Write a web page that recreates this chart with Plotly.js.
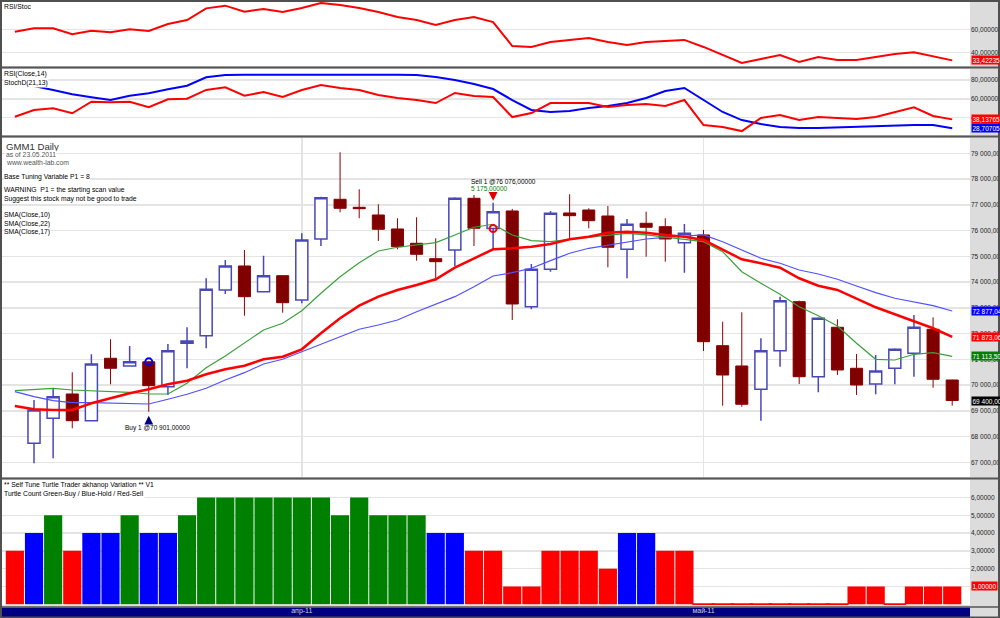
<!DOCTYPE html>
<html><head><meta charset="utf-8">
<script src="https://cdn.plot.ly/plotly-3.0.1.min.js"></script>
<style>html,body{margin:0;padding:0;background:#fff}#chart{width:1000px;height:618px}</style>
</head><body><div id="chart"></div>
<script>
// ---------- DATA ----------
const dates = ['2011-03-11','2011-03-14','2011-03-15','2011-03-16','2011-03-17','2011-03-18','2011-03-21','2011-03-22','2011-03-23','2011-03-24',
'2011-03-25','2011-03-28','2011-03-29','2011-03-30','2011-03-31','2011-04-01','2011-04-04','2011-04-05','2011-04-06','2011-04-07',
'2011-04-08','2011-04-11','2011-04-12','2011-04-13','2011-04-14','2011-04-15','2011-04-18','2011-04-19','2011-04-20','2011-04-21',
'2011-04-22','2011-04-25','2011-04-26','2011-04-27','2011-04-28','2011-04-29','2011-05-03','2011-05-04','2011-05-05','2011-05-06',
'2011-05-10','2011-05-11','2011-05-12','2011-05-13','2011-05-16','2011-05-17','2011-05-18','2011-05-19','2011-05-20','2011-05-23'];
const monthTickDates = ['2011-04-01','2011-05-03'];
const monthTickLabels = ['апр-11','май-11'];

const open  = [null,67740,68710,69654,68617,71040,70741,70901,69937,71622,71917,73692,74624,73626,74247,73304,75672,77214,76903,76604,76061,75505,74907,75245,77253,76076,76760,73043,74496,76682,76798,76565,75272,76282,76150,75529,75828,71529,70741,69836,71335,73238,70325,72244,70652,70042,70652,71234,72166,70197];
const high  = [null,69420,69875,70496,71195,71778,71517,70920,71595,72244,74146,74857,75245,75024,74260,75894,77315,79039,77602,77020,76476,76515,75699,77290,77381,77082,76840,74702,76760,77408,76864,76954,76449,76732,76476,76255,76022,72461,72826,71816,73432,73276,72630,72554,71207,71168,71428,72721,72632,70210];
const low   = [null,66963,67157,68322,68600,70030,70720,68966,69615,70652,71428,73537,72694,73600,72810,73175,75400,76709,76476,75595,75272,74830,74053,74624,75400,75272,72527,72943,74403,75699,76088,74573,74146,74985,74791,74364,71323,69199,69160,68617,70714,70042,69720,70391,69615,69642,70030,70325,69898,69199];
const close = [null,69030,69550,68617,70819,70652,70908,69976,71335,71712,73719,74624,73432,74247,73199,75633,77276,76864,76849,76049,75373,75078,74791,77253,76088,76732,73148,74496,76670,76577,76383,75350,76243,76127,75672,75894,71684,70391,69254,71335,73276,70325,72593,70586,70003,70547,71389,72244,70224,69400];

const sma10 = [69782,69836,69875,69809,69782,69743,69720,69654,69654,70069,70675,71129,71622,72139,72399,72888,73564,74208,74752,75206,75350,75439,75529,75828,76127,76243,75828,75606,75567,75661,75738,75828,75893,75828,75738,75672,75567,75179,74403,73952,73525,73043,72694,72294,71622,71001,70974,71195,71257,71113.5];
const sma22 = [69743,69549,69393,69316,69316,69293,69293,69265,69448,69642,69875,70197,70481,70819,71001,71296,71595,71879,72166,72333,72527,72849,73148,73432,73820,74236,74364,74535,74830,75117,75311,75439,75567,75672,75738,75789,75828,75567,75245,74923,74729,74469,74313,74107,73847,73587,73370,73214,73082,72877.04];
const sma17 = [69188,69060,69032,69032,69293,69487,69681,69836,70030,70170,70419,70613,70753,71001,71102,71389,72011,72593,73082,73432,73692,73886,74107,74558,74923,75272,75311,75373,75478,75661,75762,75917,75956,75917,75828,75762,75633,75245,74884,74729,74558,74146,73859,73692,73370,73020,72748,72461,72205,71873.06];

const rsiStoc = [57.9,60.9,60.9,55.7,58.8,57.4,60.0,58.5,64.5,67.9,77.9,80.2,75.0,77.4,74.8,78.2,82.5,80.8,78.2,74.8,70.5,67.9,63.7,67.9,70.5,66.2,45.7,44.9,49.1,50.9,52.6,49.1,46.6,49.1,50.0,50.9,44.9,38.0,31.2,34.6,38.0,32.1,36.3,33.8,33.8,36.3,38.9,40.3,36.6,33.42235];
const rsi14   = [41,48.1,49.9,44.6,56.9,56.3,56.9,51,59.5,60.1,69.4,72.2,63.3,67.2,61.9,69.4,74.7,71.5,69.4,64,60.9,58.7,55.5,66.2,63,61.9,40.6,44.9,55.5,55.5,55.5,51.3,53.4,54.5,52.3,58.7,32.1,30,25.7,39.6,42.8,37.4,40.6,39.6,38.5,40.6,46,51,41.7,38.13765];
const stochD  = [75.2,73.6,69.4,64.8,61.7,58.7,63.3,65.9,70.1,73.9,82.9,85.3,85.5,85.6,85.6,85.6,85.7,85.7,85.6,85.6,85.5,85.4,83.2,80,75.7,70.4,58.7,48.1,46,47,50.2,52.3,55.5,60.9,68.3,71.5,58.7,46,37.4,33.2,30,28.9,28.9,29.5,30,31.1,31.4,32.1,32.1,28.70705];

const turtleCount  = [3,4,5,3,4,4,5,4,4,5,6,6,6,6,6,6,6,5,6,5,5,5,4,4,3,3,1,1,3,3,3,2,4,4,3,3,0,0,0,0,0,0,0,0,1,1,0,1,1,1];
const turtleSignal = ['Sell','Hold','Buy','Sell','Hold','Hold','Buy','Hold','Hold','Buy','Buy','Buy','Buy','Buy','Buy','Buy','Buy','Buy','Buy','Buy','Buy','Buy','Hold','Hold','Sell','Sell','Sell','Sell','Sell','Sell','Sell','Sell','Hold','Hold','Sell','Sell','Sell','Sell','Sell','Sell','Sell','Sell','Sell','Sell','Sell','Sell','Sell','Sell','Sell','Sell'];

const buyDates = ['2011-03-22'], buyPrices = [70901];
const sellDates = ['2011-04-15'], sellPrices = [76076];

// ---------- HELPERS ----------
const FONT = 'Liberation Sans, Arial, sans-serif';
const FS = 6.5;     // scale / signal texts
const FT = 6.8;     // panel description texts
function fmt(v, d) {
  const s = Math.abs(v).toFixed(d);
  let [i, f] = s.split('.');
  i = i.replace(/\B(?=(\d{3})+(?!\d))/g, ' ');
  return (v < 0 ? '-' : '') + i + (f ? ',' + f : '');
}
const last = a => a[a.length - 1];
const PW = 968, PH = 603, PL = 2, PB = 605;
const px2x = px => (px - PL) / PW;
const px2y = py => (PB - py) / PH;
const sigColor = {Buy: '#008000', Hold: '#0000ff', Sell: '#ff0000'};
const idx = d => dates.indexOf(d);

// ---------- TRACES ----------
const traces = [
  {type: 'scatter', mode: 'lines', x: dates, y: rsiStoc, xaxis: 'x', yaxis: 'y', line: {color: '#ff0000', width: 2}},
  {type: 'scatter', mode: 'lines', x: dates, y: stochD, xaxis: 'x2', yaxis: 'y2', line: {color: '#0000ff', width: 2}},
  {type: 'scatter', mode: 'lines', x: dates, y: rsi14, xaxis: 'x2', yaxis: 'y2', line: {color: '#ff0000', width: 2}},
  {type: 'candlestick', x: dates, open: open, high: high, low: low, close: close, xaxis: 'x3', yaxis: 'y3',
   whiskerwidth: 0,
   increasing: {line: {color: '#4848b8', width: 1.5}, fillcolor: '#ffffff'},
   decreasing: {line: {color: '#8b0000', width: 1}, fillcolor: '#800000'}},
  {type: 'scatter', mode: 'lines', x: dates, y: sma22, xaxis: 'x3', yaxis: 'y3', line: {color: '#5050ff', width: 1.2}},
  {type: 'scatter', mode: 'lines', x: dates, y: sma10, xaxis: 'x3', yaxis: 'y3', line: {color: '#3aa03a', width: 1.2}},
  {type: 'scatter', mode: 'lines', x: dates, y: sma17, xaxis: 'x3', yaxis: 'y3', line: {color: '#ff0000', width: 2.5}},
  {type: 'scatter', mode: 'markers', x: buyDates, y: buyPrices, xaxis: 'x3', yaxis: 'y3',
   marker: {symbol: 'circle-open', size: 7, color: '#0000ff', line: {width: 2, color: '#0000ff'}}},
  {type: 'scatter', mode: 'markers', x: sellDates, y: sellPrices, xaxis: 'x3', yaxis: 'y3',
   marker: {symbol: 'circle-open', size: 7, color: '#ff0000', line: {width: 2, color: '#ff0000'}}},
  {type: 'bar', x: dates, y: turtleCount, xaxis: 'x4', yaxis: 'y4',
   marker: {color: turtleSignal.map(s => sigColor[s]), line: {width: 0}}},
  {type: 'scatter', mode: 'markers', xaxis: 'x4', yaxis: 'y4',
   x: dates.filter((d, i) => turtleCount[i] === 0), y: turtleCount.filter(v => v === 0),
   marker: {symbol: 'line-ew', size: 16, line: {width: 2, color: '#ff0000'}}}
];

// ---------- AXES ----------
const xBase = {type: 'category', categoryorder: 'array', categoryarray: dates, range: [-0.673, 49.93],
  showgrid: false, zeroline: false, showline: false, ticks: '', showticklabels: false, fixedrange: true};
const yBase = {side: 'right', ticks: '', showline: false, zeroline: false, gridcolor: '#e4e4e4', gridwidth: 1.5,
  tickfont: {family: FONT, size: FS, color: '#222'}, fixedrange: true};

const layout = {
  width: 1000, height: 618,
  margin: {l: 2, r: 30, t: 2, b: 13, pad: 0},
  paper_bgcolor: '#dcdcdc', plot_bgcolor: '#ffffff',
  separators: ', ',
  showlegend: false,
  boxgap: 0.1, bargap: 0.05,
  font: {family: FONT, size: FS, color: '#000'},
  xaxis: Object.assign({}, xBase, {anchor: 'y'}),
  xaxis2: Object.assign({}, xBase, {anchor: 'y2'}),
  xaxis3: Object.assign({}, xBase, {anchor: 'y3', showgrid: true, gridcolor: '#e4e4e4', gridwidth: 1.5,
    tickmode: 'array', tickvals: monthTickDates, rangeslider: {visible: false}}),
  xaxis4: Object.assign({}, xBase, {anchor: 'y4', showticklabels: true, tickmode: 'array',
    tickvals: monthTickDates, ticktext: monthTickLabels, tickfont: {family: FONT, size: 7, color: '#d0d0d0'}}),
  yaxis: Object.assign({}, yBase, {anchor: 'x', domain: [0.8939, 1], range: [28.63, 83.33], tickmode: 'array', tickvals: [40, 60], tickformat: '.5f'}),
  yaxis2: Object.assign({}, yBase, {anchor: 'x2', domain: [0.7794, 0.8889], range: [21.5, 91.7], tickmode: 'array', tickvals: [40, 60, 80], tickformat: '.5f'}),
  yaxis3: Object.assign({}, yBase, {anchor: 'x3', domain: [0.2123, 0.7745], range: [66431, 79594], dtick: 1000, tick0: 0, tickformat: ',.2f'}),
  yaxis4: Object.assign({}, yBase, {anchor: 'x4', domain: [0, 0.2073], range: [-0.04, 6.98], tickmode: 'array', tickvals: [1, 2, 3, 4, 5, 6], tickformat: '.5f'}),
  shapes: [], annotations: []
};

// frame, separators, navy time band
const darkLine = {color: '#555555', width: 2};
[67.5, 136.5, 478.5].forEach(py => layout.shapes.push({type: 'line', xref: 'paper', yref: 'paper',
  x0: px2x(0), x1: px2x(1000), y0: px2y(py), y1: px2y(py), line: darkLine, layer: 'above'}));
layout.shapes.push({type: 'rect', xref: 'paper', yref: 'paper', x0: px2x(1), x1: 1, y0: px2y(617.5), y1: px2y(607.5),
  fillcolor: '#000080', line: {width: 0}, layer: 'below'});
layout.shapes.push({type: 'line', xref: 'paper', yref: 'paper', x0: px2x(0), x1: px2x(1000), y0: px2y(607), y1: px2y(607),
  line: {color: '#555555', width: 1.5}, layer: 'above'});
layout.shapes.push({type: 'rect', xref: 'paper', yref: 'paper', x0: px2x(1), x1: px2x(999), y0: px2y(617.5), y1: px2y(1),
  line: {color: '#505050', width: 2}, fillcolor: 'rgba(0,0,0,0)', layer: 'above'});

// panel texts
function txt(t, px, py, size, color) {
  layout.annotations.push({xref: 'paper', yref: 'paper', x: px2x(px), y: px2y(py), xanchor: 'left', yanchor: 'middle',
    text: t, showarrow: false, bgcolor: '#ffffff', borderpad: 0,
    font: {family: FONT, size: size || FT, color: color || '#000'}});
}
txt('RSI/Stoc', 3, 7);
txt('RSI(Close,14)', 3, 74);
txt('StochD(21,13)', 3, 82.5);
txt('GMM1 Daily', 5, 146, 9.6, '#333');
txt('as of 23.05.2011', 5, 154.5, FT, '#555');
txt('www.wealth-lab.com', 5, 162, FT, '#555');
txt('Base Tuning Variable P1 = 8', 3, 176.7);
txt('WARNING\u00a0\u00a0P1 = the starting scan value', 3, 190.3);
txt('Suggest this stock may not be good to trade', 3, 198.5);
txt('SMA(Close,10)', 3, 215);
txt('SMA(Close,22)', 3, 223.5);
txt('SMA(Close,17)', 3, 232);
txt('** Self Tune Turtle Trader akhanop Variation ** V1', 3, 485);
txt('Turtle Count Green-Buy / Blue-Hold / Red-Sell', 3, 493.5);

// current value labels on the right scale
function valLabel(v, yref, dec, bg) {
  layout.annotations.push({xref: 'paper', x: 1, xanchor: 'left', xshift: 1, yref: yref, y: v, yanchor: 'middle',
    text: fmt(v, dec), showarrow: false, bgcolor: bg, borderpad: 0.5,
    font: {family: FONT, size: FS, color: '#ffffff'}});
}
valLabel(last(rsiStoc), 'y', 5, '#ff0000');
valLabel(last(rsi14), 'y2', 5, '#ff0000');
valLabel(last(stochD), 'y2', 5, '#0000ff');
valLabel(last(sma22), 'y3', 2, '#0000ff');
valLabel(last(sma17), 'y3', 2, '#ff0000');
valLabel(last(sma10), 'y3', 2, '#008000');
valLabel(last(close), 'y3', 2, '#000000');
valLabel(last(turtleCount), 'y4', 5, '#ff0000');

// trade signals
buyDates.forEach((d, i) => {
  const k = idx(d);
  layout.annotations.push({xref: 'x3', yref: 'y3', x: d, y: low[k], text: '', showarrow: true,
    arrowhead: 2, arrowsize: 0.8, arrowwidth: 2.2, arrowcolor: '#000080', ax: 0, ay: 12, standoff: 4});
  layout.annotations.push({xref: 'x3', yref: 'y3', x: d, y: low[k], yshift: -16.5, xshift: 9, showarrow: false,
    text: 'Buy 1 @' + fmt(buyPrices[i], 5), font: {family: FONT, size: FS, color: '#000'}});
});
sellDates.forEach((d, i) => {
  const k = idx(d);
  layout.annotations.push({xref: 'x3', yref: 'y3', x: d, y: high[k], text: '', showarrow: true,
    arrowhead: 2, arrowsize: 0.8, arrowwidth: 2.2, arrowcolor: '#e00000', ax: 0, ay: -9, standoff: 2});
  layout.annotations.push({xref: 'x3', yref: 'y3', x: d, y: high[k], yshift: 21.5, xshift: -24, xanchor: 'left', showarrow: false,
    text: 'Sell 1 @' + fmt(sellPrices[i], 5), font: {family: FONT, size: FS, color: '#000'}});
  layout.annotations.push({xref: 'x3', yref: 'y3', x: d, y: high[k], yshift: 14.3, xshift: -24, xanchor: 'left', showarrow: false,
    text: fmt(sellPrices[i] - buyPrices[i], 5), font: {family: FONT, size: FS, color: '#008000'}});
});

Plotly.newPlot('chart', traces, layout, {staticPlot: true, displayModeBar: false});
</script>
</body></html>
